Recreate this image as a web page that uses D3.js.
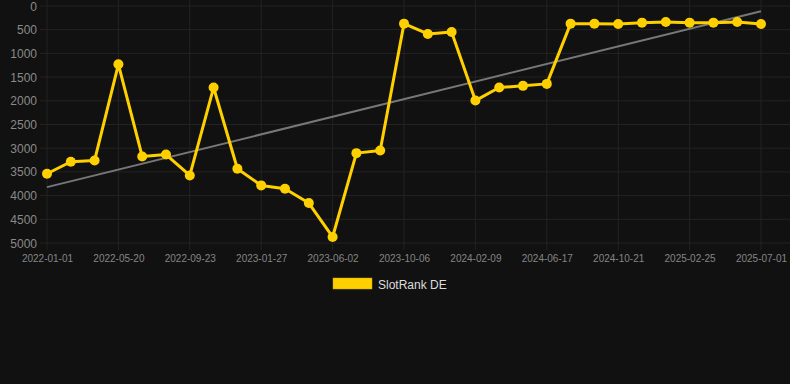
<!DOCTYPE html>
<html>
<head>
<meta charset="utf-8">
<script src="https://cdn.jsdelivr.net/npm/d3@7/dist/d3.min.js"></script>
<style>
html,body{margin:0;padding:0;background:#111111;}
svg{display:block;}
text{font-family:"Liberation Sans",Arial,Helvetica,sans-serif;}
</style>
</head>
<body>
<div id="chart"></div>
<script>
const dates = ["2022-01-01","2022-02-16","2022-04-04","2022-05-20","2022-07-01","2022-08-12","2022-09-23","2022-11-04","2022-12-16","2023-01-27","2023-03-10","2023-04-21","2023-06-02","2023-07-14","2023-08-25","2023-10-06","2023-11-17","2023-12-29","2024-02-09","2024-03-22","2024-05-05","2024-06-17","2024-07-29","2024-09-09","2024-10-21","2024-12-02","2025-01-14","2025-02-25","2025-04-08","2025-05-20","2025-07-01"];
const rankDE = [3539,3286,3259,1230,3175,3133,3575,1720,3434,3785,3855,4157,4873,3104,3048,372,590,548,1995,1720,1685,1643,372,372,379,351,337,351,351,337,379];
const yTicks = [0,500,1000,1500,2000,2500,3000,3500,4000,4500,5000];
const seriesName = "SlotRank DE";

const W = 790, H = 384;
const svg = d3.select("#chart").append("svg").attr("width", W).attr("height", H);
svg.append("rect").attr("width", W).attr("height", H).attr("fill", "#111111");

const x = d3.scalePoint().domain(dates).range([47, 761]).padding(0);
const y = d3.scaleLinear().domain([0, 5000]).range([6, 243]);

const labelDates = dates.filter((d, i) => i % 3 === 0);

// grid
const g = svg.append("g");
g.selectAll("line.h").data(yTicks).join("line")
  .attr("x1", 40).attr("x2", 790)
  .attr("y1", d => y(d)).attr("y2", d => y(d))
  .attr("stroke", "#232323").attr("stroke-width", 1);
g.selectAll("line.v").data(labelDates).join("line")
  .attr("x1", d => x(d)).attr("x2", d => x(d))
  .attr("y1", 0).attr("y2", 250)
  .attr("stroke", "#232323").attr("stroke-width", 1);

// y axis
const yAxis = d3.axisLeft(y).tickValues(yTicks).tickSize(0).tickPadding(0).tickFormat(d3.format("d"));
const ya = svg.append("g").attr("transform", "translate(37,0)").call(yAxis);
ya.select(".domain").remove();
ya.selectAll("text").attr("fill", "#8a8a8a").style("font-size", "12px").attr("dy", "0.34em");

// x axis
const xAxis = d3.axisBottom(x).tickValues(labelDates).tickSize(0).tickPadding(0);
const xa = svg.append("g").attr("transform", "translate(0,255)").call(xAxis);
xa.select(".domain").remove();
xa.selectAll("text").attr("fill", "#858585").style("font-size", "10px").attr("dy", "0.71em");

// trend line (least squares)
const n = rankDE.length;
const idx = d3.range(n);
const mx = d3.mean(idx), my = d3.mean(rankDE);
const slope = d3.sum(idx, i => (i - mx) * (rankDE[i] - my)) / d3.sum(idx, i => (i - mx) * (i - mx));
const icpt = my - slope * mx;
svg.append("line")
  .attr("x1", x(dates[0])).attr("y1", y(icpt))
  .attr("x2", x(dates[n - 1])).attr("y2", y(icpt + slope * (n - 1)))
  .attr("stroke", "#777777").attr("stroke-width", 2);

// series line
const line = d3.line().x((d, i) => x(dates[i])).y(d => y(d));
svg.append("path").datum(rankDE).attr("d", line)
  .attr("fill", "none").attr("stroke", "#FFD000").attr("stroke-width", 3)
  .attr("stroke-linejoin", "round");
svg.selectAll("circle.pt").data(rankDE).join("circle")
  .attr("cx", (d, i) => x(dates[i])).attr("cy", d => y(d)).attr("r", 5)
  .attr("fill", "#FFD000");

// legend
svg.append("rect").attr("x", 333).attr("y", 278).attr("width", 39).attr("height", 11)
  .attr("fill", "#FFD000").attr("stroke", "#c9a400").attr("stroke-width", 0.5);
svg.append("text").attr("x", 378).attr("y", 284.5).attr("dy", "0.35em")
  .attr("fill", "#dddddd").style("font-size", "12px").text(seriesName);
</script>
</body>
</html>
